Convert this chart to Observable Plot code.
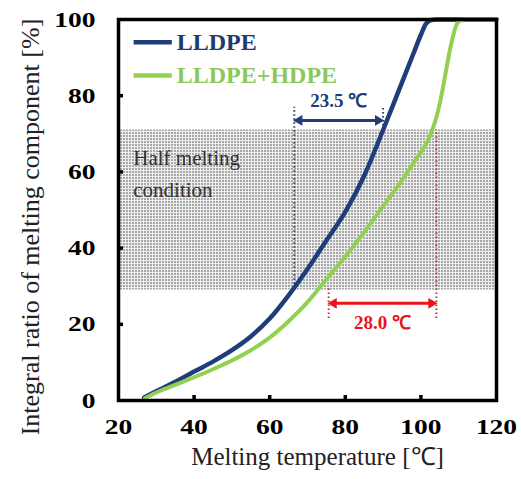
<!DOCTYPE html>
<html><head><meta charset="utf-8">
<script src="https://cdn.jsdelivr.net/npm/d3@7"></script>
<script src="https://cdn.jsdelivr.net/npm/@observablehq/plot@0.6"></script>
<style>body{margin:0;background:#fff}#chart{width:521px;height:479px}</style>
</head><body><div id="chart"></div>
<script>
// ---- data ----
const xTicks = [20, 40, 60, 80, 100, 120];
const yTicks = [0, 20, 40, 60, 80, 100];
const innerXTicks = [40, 60, 80, 100];
const innerYTicks = [20, 40, 60, 80];

const seriesNames = ["LLDPE", "LLDPE+HDPE"];
const lldpeTemp = [26.8, 30, 35, 40, 45, 50, 55, 60, 65, 70, 75, 80, 85, 90, 95, 98, 100, 101.3, 102.5, 104, 120];
const lldpeVal  = [0.8, 2.4, 4.9, 7.6, 10.2, 13.2, 16.8, 21.5, 27.6, 34.5, 42, 49.5, 59, 71, 83.5, 91, 96, 98.8, 99.8, 100, 100];
const blendTemp = [27, 30, 35, 40, 45, 50, 55, 60, 65, 70, 75, 80, 85, 90, 95, 98, 100, 102, 103, 104, 105, 106, 107, 108, 109, 110, 111.5, 120];
const blendVal  = [0.6, 2.1, 4.1, 6.1, 8.2, 10.5, 13.2, 16.5, 20.8, 25.8, 31.8, 37.8, 44.2, 51, 57.8, 62.3, 65.2, 68.5, 71, 74, 78, 83, 88.5, 93.5, 97.5, 99.5, 100, 100];

const halfBand = [29, 71];
const halfLabel = "Half melting\ncondition";

const lldpeSpan = [66.5, 90];    const lldpeArrowY = 73.5; const lldpeSpanLabel = "23.5 ℃";
const lldpeDotL = [30.5, 77];    const lldpeDotR = [71, 77];
const blendSpan = [75.6, 104.1]; const blendArrowY = 25.5; const blendSpanLabel = "28.0 ℃";
const blendDotL = [21.5, 29.5];  const blendDotR = [21.5, 71];

const xLabelMain = "Melting temperature ", xLabelUnit = "[℃]";
const yLabelMain = "Integral ratio of melting component ", yLabelUnit = "[%]";

const colors = ["#1f3d78", "#92d050"];
const textColors = ["#1f3a6e", "#8cc75a"];
const red = "#e8141c";

// ---- build ----
const lldpe = lldpeTemp.map((t, i) => ({t, v: lldpeVal[i]}));
const blend = blendTemp.map((t, i) => ({t, v: blendVal[i]}));
const serif = "'Liberation Serif', 'Times New Roman', serif";

const legend = [
  {name: seriesNames[0], y: 94, c: colors[0], tc: textColors[0]},
  {name: seriesNames[1], y: 85.3, c: colors[1], tc: textColors[1]}
];

function dblArrow(span, y, color) {
  return [
    Plot.link([0], {x1: span[0] + 1.5, x2: span[1] - 1.5, y1: y, y2: y, stroke: color, strokeWidth: 3}),
    Plot.dot([0], {x: span[1], y, dx: -5, symbol: "triangle", r: 4, rotate: 90, fill: color, stroke: null}),
    Plot.dot([0], {x: span[0], y, dx: 5, symbol: "triangle", r: 4, rotate: -90, fill: color, stroke: null})
  ];
}
const dotted = {strokeWidth: 2, strokeDasharray: "1.5,2.5"};

const chart = Plot.plot({
  width: 521, height: 479,
  marginLeft: 118, marginRight: 25, marginTop: 19, marginBottom: 79,
  style: {fontFamily: serif, background: "white", overflow: "visible"},
  x: {domain: [20, 120]},
  y: {domain: [0, 100]},
  marks: [
    Plot.rect([halfBand], {x1: 20, x2: 120, y1: d => d[0], y2: d => d[1], fill: "url(#halfdots)"}),
    Plot.line(lldpe, {x: "t", y: "v", stroke: colors[0], strokeWidth: 4.5, curve: "monotone-x"}),
    Plot.line(blend, {x: "t", y: "v", stroke: colors[1], strokeWidth: 4, curve: "monotone-x"}),
    Plot.ruleX([lldpeSpan[0]], {y1: lldpeDotL[0], y2: lldpeDotL[1], stroke: "#2c3a5a", ...dotted}),
    Plot.ruleX([lldpeSpan[1]], {y1: lldpeDotR[0], y2: lldpeDotR[1], stroke: "#2c3a5a", ...dotted}),
    Plot.ruleX([blendSpan[0]], {y1: blendDotL[0], y2: blendDotL[1], stroke: "#d42a2a", ...dotted}),
    Plot.ruleX([blendSpan[1]], {y1: blendDotR[0], y2: blendDotR[1], stroke: "#d42a2a", ...dotted}),
    ...dblArrow(lldpeSpan, lldpeArrowY, colors[0]),
    ...dblArrow(blendSpan, blendArrowY, red),
    Plot.text([lldpeSpanLabel], {x: (lldpeSpan[0] + lldpeSpan[1]) / 2, y: lldpeArrowY, dy: -20, fill: colors[0], fontSize: 19, fontWeight: "bold", ariaLabel: "span-label"}),
    Plot.text([blendSpanLabel], {x: (blendSpan[0] + blendSpan[1]) / 2, y: blendArrowY, dy: 20, fill: red, fontSize: 19, fontWeight: "bold", ariaLabel: "span-label"}),
    Plot.text([halfLabel], {x: 23.9, y: 60.3, textAnchor: "start", fill: "#333", fontSize: 21, lineHeight: 1.55, ariaLabel: "half-label"}),
    // legend
    Plot.link(legend, {x1: 24, x2: 34.1, y1: "y", y2: "y", stroke: "c", strokeWidth: 4.5}),
    Plot.text(legend, {x: 35.4, y: "y", text: "name", fill: "tc", textAnchor: "start", fontSize: 24, fontWeight: "bold"}),
    // inward ticks
    Plot.tickX(innerXTicks, {x: d => d, insetTop: 376, stroke: "black", strokeWidth: 3.5}),
    Plot.tickY(innerYTicks, {y: d => d, insetRight: 373, stroke: "black", strokeWidth: 3.5}),
    Plot.frame({stroke: "black", strokeWidth: 3.5}),
    Plot.axisX({ticks: xTicks, tickSize: 0, tickPadding: 18, fontSize: 22, fontWeight: "bold", label: null}),
    Plot.axisY({ticks: yTicks, tickSize: 0, tickPadding: 23, fontSize: 22, fontWeight: "bold", label: null}),
    Plot.text([xLabelMain + xLabelUnit], {frameAnchor: "bottom", lineAnchor: "middle", dx: 10, dy: 56, fontSize: 25, fill: "#222", ariaLabel: "x-label"}),
    Plot.text([yLabelMain + yLabelUnit], {frameAnchor: "left", textAnchor: "middle", lineAnchor: "middle", dx: -88, dy: 17, rotate: -90, fontSize: 26, fill: "#222", ariaLabel: "y-label"})
  ]
});

const svg = d3.select(chart);
svg.insert("defs", ":first-child").html(
  '<pattern id="halfdots" width="3" height="3" patternUnits="userSpaceOnUse">' +
  '<rect width="3" height="3" fill="#eeeeee"/><rect width="2" height="2" fill="#a8a8a8"/></pattern>');

// horizontal stretch of text (the reference figure's text is wider than the fonts available)
function stretch(sel, sx) {
  svg.selectAll(sel).each(function () {
    const t = this.getAttribute("transform") || "";
    this.setAttribute("transform", t + ` scale(${sx},1)`);
  });
}
stretch('g[aria-label="x-axis tick label"] text', 1.25);
stretch('g[aria-label="y-axis tick label"] text', 1.25);
stretch('g[aria-label="half-label"] text', 1.12);

// smaller unit brackets in the axis titles
function unitSpan(label, main, unit, size) {
  svg.selectAll(`g[aria-label="${label}"] text`).each(function () {
    const el = d3.select(this);
    el.text(null);
    el.append("tspan").text(main);
    el.append("tspan").attr("font-size", size).text(unit);
  });
}
unitSpan("x-label", xLabelMain, xLabelUnit, 20);
unitSpan("y-label", yLabelMain, yLabelUnit, 21);

document.getElementById("chart").appendChild(chart);
</script></body></html>
